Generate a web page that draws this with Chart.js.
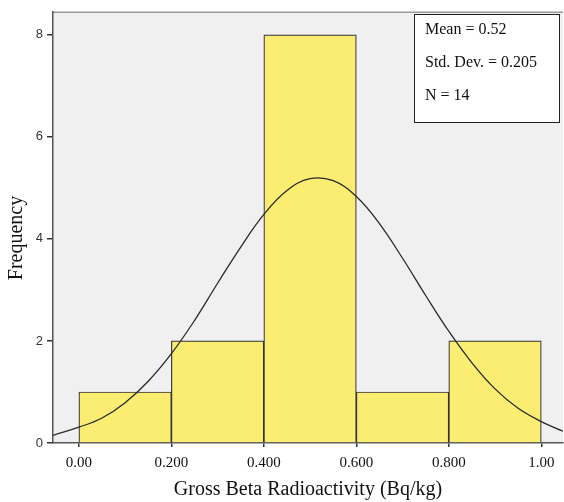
<!DOCTYPE html>
<html>
<head>
<meta charset="utf-8">
<script src="https://cdn.jsdelivr.net/npm/chart.js@4.4.1/dist/chart.umd.min.js"></script>
<style>
  html, body { margin: 0; padding: 0; background: #fff; }
  #wrap { width: 564px; height: 502px; }
</style>
</head>
<body>
<div id="wrap"><canvas id="myChart" width="564" height="502"></canvas></div>
<script>
// histogram bins (centres) and counts
const binCenters = [0.1, 0.3, 0.5, 0.7, 0.9];
const counts = [1, 2, 8, 1, 2];

// fitted normal curve
const curveX = [-0.056, 0.0, 0.05, 0.10, 0.15, 0.20, 0.25, 0.30, 0.35, 0.40, 0.45, 0.50, 0.55, 0.60, 0.65, 0.70, 0.75, 0.80, 0.85, 0.90, 0.95, 1.00, 1.047];
const curveY = [0.15, 0.31, 0.49, 0.79, 1.21, 1.75, 2.40, 3.13, 3.84, 4.48, 4.95, 5.18, 5.14, 4.83, 4.30, 3.62, 2.89, 2.19, 1.57, 1.06, 0.68, 0.42, 0.23];

const xTickVals = [0, 0.2, 0.4, 0.6, 0.8, 1.0];
const xTickLabels = ['0.00', '0.200', '0.400', '0.600', '0.800', '1.00'];
const yTickVals = [0, 2, 4, 6, 8];

const statsLines = ['Mean = 0.52', 'Std. Dev. = 0.205', 'N = 14'];
const yTitle = 'Frequency';

const serif = '"Liberation Serif", "Times New Roman", serif';

const plotBg = {
  id: 'plotBg',
  beforeDraw(chart) {
    const {ctx, chartArea: a} = chart;
    ctx.save();
    ctx.fillStyle = '#f0f0f0';
    ctx.fillRect(a.left, a.top, a.right - a.left, a.bottom - a.top);
    ctx.strokeStyle = '#9a9a9a';
    ctx.lineWidth = 1.5;
    ctx.beginPath();
    ctx.moveTo(a.left, a.top + 0.5);
    ctx.lineTo(a.right, a.top + 0.5);
    ctx.stroke();
    ctx.restore();
  }
};

const statsBox = {
  id: 'statsBox',
  afterDraw(chart) {
    const ctx = chart.ctx;
    ctx.save();
    ctx.fillStyle = '#fff';
    ctx.fillRect(414, 14, 145, 108);
    ctx.strokeStyle = '#222';
    ctx.lineWidth = 1;
    ctx.strokeRect(414.5, 14.5, 145, 108);
    ctx.fillStyle = '#111';
    ctx.font = '16px ' + serif;
    ctx.textBaseline = 'middle';
    statsLines.forEach((t, i) => {
      ctx.fillText(t, 425, 30 + i * 33);
    });
    // y axis title, sits a little below the middle like the original
    ctx.translate(17, 238);
    ctx.rotate(-Math.PI / 2);
    ctx.font = '20px ' + serif;
    ctx.textAlign = 'center';
    ctx.fillText(yTitle, 0, 0);
    ctx.restore();
  }
};

const ctx = document.getElementById('myChart');

new Chart(ctx, {
  type: 'bar',
  data: {
    datasets: [
      {
        type: 'line',
        data: curveX.map((x, i) => ({x: x, y: curveY[i]})),
        borderColor: '#2a2a2a',
        borderWidth: 1.3,
        pointRadius: 0,
        tension: 0.4,
        fill: false,
        order: 0
      },
      {
        type: 'bar',
        data: binCenters.map((x, i) => ({x: x, y: counts[i]})),
        backgroundColor: '#fbec72',
        borderColor: '#33333a',
        borderWidth: 1.2,
        barPercentage: 1,
        categoryPercentage: 1,
        order: 1
      }
    ]
  },
  options: {
    responsive: false,
    animation: false,
    layout: { padding: { top: 8, right: 1, left: 0, bottom: 0 } },
    plugins: {
      legend: { display: false },
      tooltip: { enabled: false }
    },
    scales: {
      x: {
        type: 'linear',
        min: -0.056,
        max: 1.047,
        offset: false,
        afterFit: (s) => { s.height = 59; },
        afterBuildTicks: (s) => { s.ticks = xTickVals.map(v => ({value: v})); },
        ticks: {
          autoSkip: false,
          maxRotation: 0,
          padding: 7,
          color: '#111',
          font: { family: serif, size: 15 },
          callback: (v, i) => xTickLabels[i]
        },
        grid: { display: true, offset: false, drawOnChartArea: false, drawTicks: true, tickLength: 4, color: '#333', lineWidth: 1.5 },
        border: { display: true, color: '#555', width: 1.5 },
        title: {
          display: true,
          text: 'Gross Beta Radioactivity (Bq/kg)',
          color: '#111',
          font: { family: serif, size: 20 },
          padding: { top: 0, bottom: 0 }
        }
      },
      y: {
        min: 0,
        max: 8.45,
        afterFit: (s) => { s.width = 53; },
        afterBuildTicks: (s) => { s.ticks = yTickVals.map(v => ({value: v})); },
        ticks: {
          padding: 4,
          color: '#333',
          font: { family: '"Liberation Sans", Arial, sans-serif', size: 13 }
        },
        grid: { display: true, offset: false, drawOnChartArea: false, drawTicks: true, tickLength: 6, color: '#333', lineWidth: 1.5 },
        border: { display: true, color: '#555', width: 1.5 },
        title: { display: false }
      }
    }
  },
  plugins: [plotBg, statsBox]
});
</script>
</body>
</html>
